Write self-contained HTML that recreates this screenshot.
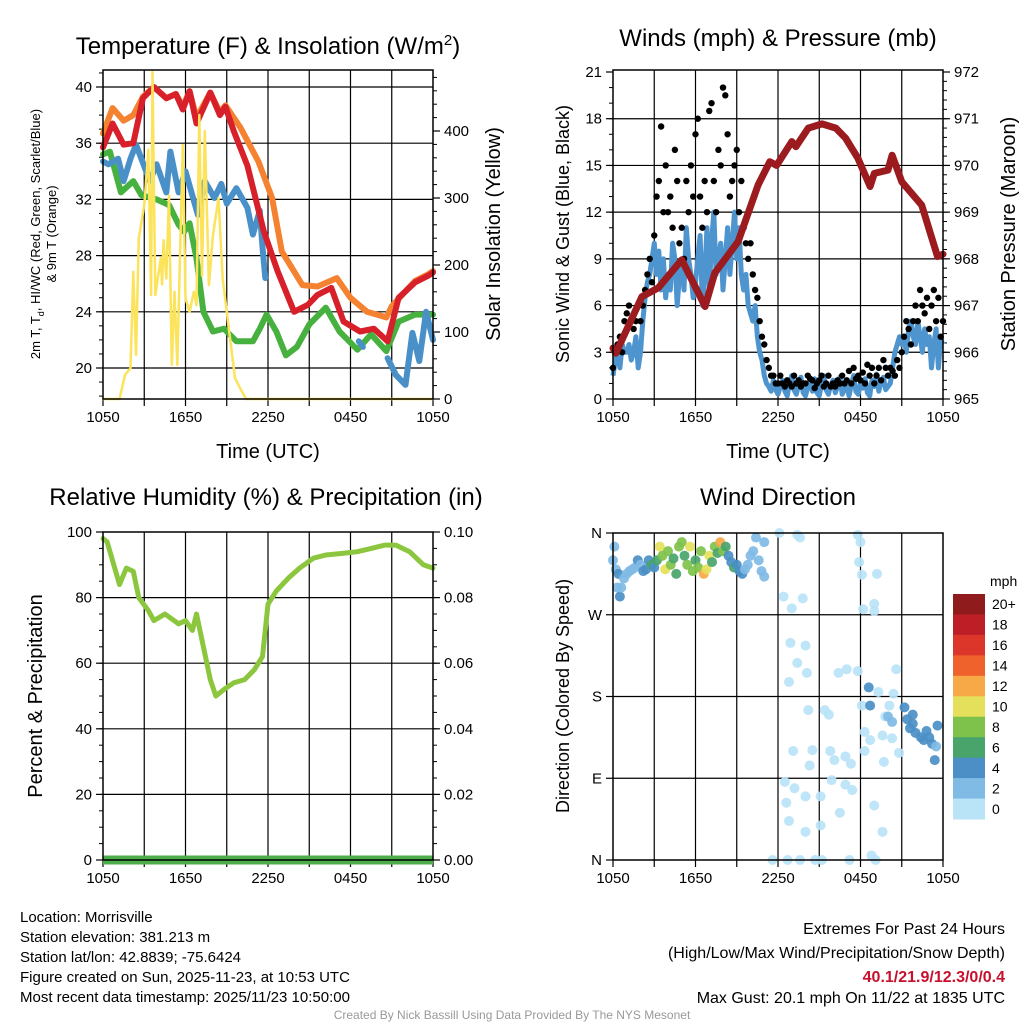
<!DOCTYPE html>
<html><head><meta charset="utf-8">
<style>
html,body{margin:0;padding:0;background:#fff;}
svg{display:block;font-family:"Liberation Sans",Arial,sans-serif;}
</style></head>
<body>
<svg id="chart" width="1024" height="1024" viewBox="0 0 1024 1024" xmlns="http://www.w3.org/2000/svg">
<g id="static">
<text x="268" y="54" font-size="24" text-anchor="middle">Temperature (F) &amp; Insolation (W/m<tspan dy="-9" font-size="15">2</tspan><tspan dy="9">)</tspan></text>
<text x="778" y="46" font-size="24" text-anchor="middle">Winds (mph) &amp; Pressure (mb)</text>
<text x="266" y="505" font-size="24" text-anchor="middle">Relative Humidity (%) &amp; Precipitation (in)</text>
<text x="778" y="505" font-size="24" text-anchor="middle">Wind Direction</text>
<text x="268" y="458" font-size="20" text-anchor="middle">Time (UTC)</text>
<text x="778" y="458" font-size="20" text-anchor="middle">Time (UTC)</text>
<g transform="translate(40,234) rotate(-90)">
<text x="0" y="0" font-size="13" text-anchor="middle">2m T, T<tspan dy="4" font-size="9">d</tspan><tspan dy="-4">, HI/WC (Red, Green, Scarlet/Blue)</tspan></text>
<text x="0" y="16" font-size="13" text-anchor="middle">&amp; 9m T (Orange)</text>
</g>
<text transform="translate(500,234) rotate(-90)" font-size="20" text-anchor="middle">Solar Insolation (Yellow)</text>
<text transform="translate(569,234) rotate(-90)" font-size="18" text-anchor="middle">Sonic Wind &amp; Gust (Blue, Black)</text>
<text transform="translate(1015,234) rotate(-90)" font-size="20" text-anchor="middle">Station Pressure (Maroon)</text>
<text transform="translate(42,696) rotate(-90)" font-size="20" text-anchor="middle">Percent &amp; Precipitation</text>
<text transform="translate(569,696) rotate(-90)" font-size="18" text-anchor="middle">Direction (Colored By Speed)</text>
<g font-size="15">
<text x="20" y="922">Location: Morrisville</text>
<text x="20" y="942">Station elevation: 381.213 m</text>
<text x="20" y="962">Station lat/lon: 42.8839; -75.6424</text>
<text x="20" y="982">Figure created on Sun, 2025-11-23, at 10:53 UTC</text>
<text x="20" y="1002">Most recent data timestamp: 2025/11/23 10:50:00</text>
</g>
<g font-size="16" text-anchor="end">
<text x="1005" y="934">Extremes For Past 24 Hours</text>
<text x="1005" y="958">(High/Low/Max Wind/Precipitation/Snow Depth)</text>
<text x="1005" y="982" fill="#c8102e" font-weight="bold">40.1/21.9/12.3/0/0.4</text>
<text x="1005" y="1003">Max Gust: 20.1 mph On 11/22 at 1835 UTC</text>
</g>
<text x="512" y="1019" font-size="12" fill="#999" text-anchor="middle">Created By Nick Bassill Using Data Provided By The NYS Mesonet</text>
</g>
<g id="dyn"></g>
</svg>
<script>
// ---------------- DATA ----------------
const xTickLabels = ["1050","1650","2250","0450","1050"];
const redHours = [0,0.7,1.5,2.2,2.9,3.7,4.6,5.3,5.8,6.3,6.8,7.8,8.5,8.9,9.5,10.5,11.7,12.7,13.9,14.9,15.6,16.6,17.5,18.7,19.7,20.7,21.5,22.7,23.7,24];
const redTemp = [35.7,37.4,35.9,36.0,39.2,40.0,39.2,39.5,38.4,39.7,37.4,39.6,38.0,38.6,36.9,34.4,29.7,26.9,24.0,24.5,25.2,25.7,23.3,22.6,22.8,21.9,25.0,26.1,26.6,26.8];
const orangeHours = [0,0.7,1.5,2.2,2.9,3.7,4.6,5.3,5.8,6.3,6.8,7.8,8.5,8.9,10,11.3,12.3,13,14.5,15.6,17,18,19.2,20.6,21,22.7,23.7,24];
const orangeTemp = [36.7,38.5,37.6,38.0,39.3,40.0,39.2,39.5,38.6,39.7,37.8,39.6,38.2,38.7,37.1,34.7,32.1,28.3,25.9,25.8,26.4,25.0,24.0,23.6,24.4,26.2,26.7,26.9];
const greenHours = [0,0.5,1.3,2.2,2.8,3.9,4.8,5.5,5.9,6.3,6.8,7.3,8,8.8,9.7,10.9,11.4,11.9,12.6,13.3,14.1,15,16.2,17.2,18.5,19.5,20.6,21.5,22.7,24];
const greenTemp = [35.2,35.4,32.5,33.3,32.3,32.0,31.6,30.2,29.7,30.3,27.8,24.0,22.6,22.8,21.9,21.9,22.8,23.8,22.6,20.9,21.5,23.1,24.3,22.6,21.3,22.4,21.2,23.3,23.8,23.8];
const blueHours = [0,0.4,1.1,1.5,2.0,2.4,3.4,3.9,4.6,4.9,5.5,6.0,6.9,7.4,8.1,8.6,9.0,9.7,10.5,10.9,11.4,11.6,11.8,11.9,18.6,18.9,19.0,20.7,21.3,22.0,22.5,23.0,23.5,24];
const blueTemp = [34.7,34.5,34.9,33.3,34.9,35.9,33.3,34.5,32.5,35.4,32.5,34.0,30.9,33.3,32.1,33.1,31.7,32.8,31.4,29.5,31.2,28.6,26.4,null,21.9,21.5,null,20.7,19.5,18.8,22.5,20.5,24.0,22.0];
const solarHours = [0,1.2,1.6,2.0,2.2,2.4,2.6,3.0,3.3,3.5,3.6,3.8,4.2,4.3,4.4,4.6,4.8,5.0,5.2,5.4,5.8,6.0,6.3,6.6,6.8,7.0,7.2,7.4,7.7,8.0,8.4,8.7,9.0,9.6,10.0,10.4,24];
const solarVals = [0,0,36,46,190,66,240,290,372,155,488,155,210,171,237,180,304,51,160,51,379,150,130,160,140,424,184,400,170,245,300,180,130,31,15,0,0];
const windVals = [1.5,2.5,3,2,3.5,3, 3,3.5,2.5,3,4,2, 3,5,6.5,7.5,8,9, 10,8,9.5,7,9,6.5, 8,7,10,9,6,8, 9,7,11,9,8,6.5, 7.5,9,10.5,6,8,11, 7,10,12,8,9,10, 7,9,11,8,10,12, 9,11,8,7,8,6, 5.5,5,6,4,3,2.5, 1.5,1,0.8,0.5,1.2,0.6,
 0.3,0.8,1.2,0.5,0.2,1,1.5,0.6,0.3,0.9,1.4,0.4,0.2,0.8,1.1,0.5,1.3,0.4,0.2,1,1.5,0.6,0.3,0.9,1.2,0.4,0.8,1.4,0.3,0.6,1.1,0.2,0.9,1.5,0.5,0.3,1,0.7,1.3,0.4,0.2,1.2,0.8,1.6,0.5,1.1,1.4,0.6,
 0.8,1,2,3,3.5,4, 3.5,4,3,4.5,5,4, 3.5,5,4,3,4.5,3.5, 4,2,3.5,4.5,2,3.8,3.5];
const gustVals = [2,3,3.5,4,3,5, 5.5,6,5,4.5,5,6, 5,6,7,8,9,7.5, 10.5,13,14,17.5,12,15, 12,13,11,16,14,10, 11,9,14,12,15,13, 17,18,13,11,14,12, 18.5,19,14,12,16,15, 20,19.5,17,13,14,15, 16,12,14,11,10,9, 10,8,7,6.5,5,4, 3.5,2.5,2,1.5,1.5,1,
 1,1.5,1,0.8,1.2,1, 0.8,1.5,1,1.2,0.8,1, 1,1.5,1.3,1.2,0.7,1, 1.2,1.5,0.8,1,1.5,0.8, 1,0.8,1.2,1,1.5,1, 1.2,1.8,1,2,1.3,1.5, 1.2,1.7,1,2.2,1.5,2, 1,1.5,2,1.2,2.5,2,
 1.5,2,1.8,1.5,2.5,2, 3,4,5,4.5,3.5,5, 6,5,7,6,5.5,6.5, 4.5,6,7,5,6.5,4,5];
const presHours = [0,0.2,2.1,3.3,5.0,6.7,7.4,9.1,10.55,11.4,11.9,13.0,13.3,14.2,15.2,16.2,16.9,17.8,18.7,19.0,20.0,20.3,21.0,22.45,23.6,24];
const presVals = [966.09,965.98,967.19,967.38,967.98,966.98,967.70,968.37,969.58,970.08,970.0,970.51,970.4,970.8,970.89,970.8,970.59,970.16,969.55,969.83,969.9,970.22,969.65,969.15,968.05,968.1];
const rhHours = [0,0.3,1.2,1.7,2.2,2.6,3.3,3.7,4.5,5.5,6,6.5,6.8,7.3,7.8,8.2,8.8,9.5,10.3,11,11.6,12,12.6,13.5,14.3,15.3,16.2,17.5,18.5,19.5,20.5,21.3,22.3,23.3,24];
const rhVals = [98,97,84,89,88,80,76,73,75,72,73,70,75,65,55,50,52,54,55,58,62,78,82,86,89,92,93,93.5,94,95,96,96,94,90,89];
const precipVals = [0,0];
const dirHours = [0,0.1,0.2,0.3,0.4,0.5,0.6,0.8,1.0,1.2,1.4,1.6,1.8,2.0,2.2,2.4,2.6,2.8,3.0,
 3.2,3.4,3.6,3.8,4.0,4.2,4.4,4.6,4.8,5.0,5.2,5.4,5.6,5.8,6.0,6.2,6.4,6.6,6.8,7.0,7.2,7.4,7.6,7.8,8.0,8.2,8.4,8.6,8.8,9.0,9.2,9.4,9.6,9.8,10.0,10.2,10.4,10.6,10.8,11.0,11.0,
 12.1,12.4,13.0,13.4,13.6,13.8,12.9,14.0,13.4,12.8,14.1,14.2,15.4,15.7,16.4,17.0,17.8,18.1,18.3,18.7,18.3,15.8,16.1,16.9,17.3,14.5,13.1,14.3,12.5,13.2,14.0,15.1,15.9,16.9,17.4,12.6,12.8,14.0,15.1,16.5,19.0,19.6,11.6,12.7,13.6,14.7,15.2,17.2,18.8,19.1,17.8,18.0,17.9,18.1,19.2,18.2,19.0,19.0,20.6,20.4,19.3,20.1,19.6,20.3,20.8,19.7,19.8,
 18.6,18.7,20.0,21.2,21.8,21.4,21.8,22.0,22.4,22.6,23.0,23.2,23.5,23.6,23.4,22.8,21.6,20.3];
const dirVals = [330,345,320,300,315,290,300,310,315,318,320,322,330,325,318,320,330,325,322,
 330,345,335,320,340,325,332,315,345,350,335,325,345,318,330,322,340,315,320,335,328,345,338,350,340,345,335,328,322,325,318,315,320,325,335,340,355,330,318,350,312,
 360,290,277,358,355,288,239,236,217,196,206,165,165,160,206,210,208,170,141,132,120,120,110,114,106,121,120,104,86,79,70,70,88,83,77,63,43,31,38,52,60,31,0,0,0,0,0,0,5,0,358,350,328,314,315,276,282,274,210,183,185,170,137,134,118,108,158,
 190,170,158,168,160,155,150,140,135,132,135,128,125,148,110,142,145,152];
const dirSpeeds = [3,3,3,3,5,5,3,3,3,3,3,3,5,3,5,5,5,7,5,
 7,11,9,11,9,9,7,7,9,9,7,9,11,9,7,9,9,13,11,11,7,9,7,13,9,7,5,5,7,5,5,5,3,3,3,3,3,3,3,3,3,
 1,1,1,1,1,1,1,1,1,1,1,1,1,1,1,1,1,1,1,1,1,1,1,1,1,1,1,1,1,1,1,1,1,1,1,1,1,1,1,1,1,1,1,1,1,1,1,1,1,1,1,1,1,1,1,1,1,1,1,1,1,1,1,1,1,1,1,
 5,5,3,5,5,5,5,5,5,5,5,5,3,5,5,5,5,3];
const cbLabels = ["20+","18","16","14","12","10","8","6","4","2","0"];
const cbColors = ["#8f1b1d","#be1f26","#dc3529","#f0622b","#f7a847","#e5e05b","#7fc24b","#48a46b","#4b8fc6","#80bbe5","#b9e3f7"];

// ---------------- HELPERS ----------------
const NS="http://www.w3.org/2000/svg";
const dyn=document.getElementById('dyn');
function mk(tag,attrs,parent){const e=document.createElementNS(NS,tag);for(const k in attrs)e.setAttribute(k,attrs[k]);(parent||dyn).appendChild(e);return e;}
function lin(d0,d1,r0,r1){return v=>r0+(v-d0)/(d1-d0)*(r1-r0);}
function pathFrom(xs,ys,fx,fy){let d="",pen=false;for(let i=0;i<xs.length;i++){if(ys[i]===null||ys[i]===undefined){pen=false;continue;}d+=(pen?"L":"M")+fx(xs[i]).toFixed(1)+","+fy(ys[i]).toFixed(1);pen=true;}return d;}

function panelFrame(name,L,T,R,B,hGrid){
  const g=mk('g',{});
  
  
  const fx=lin(0,24,L,R);
  for(let h=3;h<24;h+=3){const l=mk('line',{x1:fx(h),x2:fx(h),y1:T,y2:B,stroke:'#000','stroke-width':1.2},g);}
  hGrid.forEach(y=>{if(y<T+4||y>B-4)return;const l=mk('line',{x1:L,x2:R,y1:y,y2:y,stroke:'#000','stroke-width':1.2},g);});
  for(let h=0;h<=24;h+=3){mk('line',{x1:fx(h),x2:fx(h),y1:B,y2:B+7,stroke:'#000','stroke-width':1.2},g);}
  xTickLabels.forEach((s,i)=>{const t=mk('text',{x:fx(i*6),y:B+23,'font-size':15,'text-anchor':'middle'},g);t.textContent=s;});
  return fx;
}
function border(L,T,R,B){const r=mk('rect',{x:L,y:T,width:R-L,height:B-T,fill:'none',stroke:'#000','stroke-width':1.5});}
function yAxis(x,fy,ticks,labels,minor,side){
  const dir=side==='left'?-1:1;
  minor.forEach(v=>mk('line',{x1:x,x2:x+dir*4,y1:fy(v),y2:fy(v),stroke:'#000','stroke-width':1}));
  ticks.forEach((v,i)=>{mk('line',{x1:x,x2:x+dir*7,y1:fy(v),y2:fy(v),stroke:'#000','stroke-width':1.2});
    const t=mk('text',{x:x+dir*11,y:fy(v)+5,'font-size':15,'text-anchor':side==='left'?'end':'start'});t.textContent=labels[i];
    });
}
function range(a,b,s){const r=[];for(let v=a;v<=b+1e-9;v+=s)r.push(+v.toFixed(4));return r;}

// ---------------- PANEL 1 ----------------
(function(){
  const L=103,T=70,R=433,B=399;
  const fyT=lin(20,40,368,87), fyS=lin(0,400,399,131);
  const tT=[20,24,28,32,36,40];
  const fx=panelFrame('temp-panel',L,T,R,B,tT.map(fyT));
  yAxis(L,fyT,tT,tT.map(String),range(18,41,1),'left');
  const sT=[0,100,200,300,400];
  yAxis(R,fyS,sT,sT.map(String),range(0,480,20),'right');
  const series=[[orangeHours,orangeTemp,'#f58231','nine-m-temp-line'],[greenHours,greenTemp,'#47b13f','dewpoint-line'],[blueHours,blueTemp,'#4a90c8','windchill-line'],[redHours,redTemp,'#d7202a','two-m-temp-line']];
  series.forEach(s=>{const p=mk('path',{d:pathFrom(s[0],s[1],fx,fyT),fill:'none',stroke:s[2],'stroke-width':6,'stroke-linejoin':'round','stroke-linecap':'round'});
    });
  const p=mk('path',{d:pathFrom(solarHours,solarVals,fx,fyS),fill:'none',stroke:'#fbe35b','stroke-width':2.5,'stroke-linejoin':'round'});
  
  border(L,T,R,B);
})();

// ---------------- PANEL 2 ----------------
(function(){
  const L=613,T=70,R=943,B=399;
  const fyW=lin(0,21,399,72), fyP=lin(965,972,399,72);
  const tW=[0,3,6,9,12,15,18,21];
  const fx=panelFrame('wind-panel',L,T,R,B,tW.map(fyW));
  yAxis(L,fyW,tW,tW.map(String),range(0,21,1),'left');
  const tP=[965,966,967,968,969,970,971,972];
  yAxis(R,fyP,tP,tP.map(String),range(965,972,0.2),'right');
  const hrs=windVals.map((v,i)=>i/6);
  const w=mk('path',{d:pathFrom(hrs,windVals,fx,fyW),fill:'none',stroke:'#4e94cf','stroke-width':5,'stroke-linejoin':'round'});
  
  gustVals.forEach((v,i)=>{const c=mk('circle',{cx:fx(i/6),cy:fyW(v),r:3.2,fill:'#000'});
    });
  const p=mk('path',{d:pathFrom(presHours,presVals,fx,fyP),fill:'none',stroke:'#9b1b1f','stroke-width':7,'stroke-linejoin':'round','stroke-linecap':'round'});
  
  border(L,T,R,B);
})();

// ---------------- PANEL 3 ----------------
(function(){
  const L=103,T=532,R=433,B=860;
  const fyR=lin(0,100,860,532), fyP=lin(0,0.1,860,532);
  const tR=[0,20,40,60,80,100];
  const fx=panelFrame('rh-panel',L,T,R,B,tR.map(fyR));
  yAxis(L,fyR,tR,tR.map(String),range(0,100,5),'left');
  const tP=[0,0.02,0.04,0.06,0.08,0.1];
  yAxis(R,fyP,tP,tP.map(v=>v.toFixed(2)),range(0,0.1,0.005),'right');
  const pr=mk('path',{d:pathFrom([0,24],precipVals,fx,fyP),fill:'none',stroke:'#4cae4a','stroke-width':9});
  
  const p=mk('path',{d:pathFrom(rhHours,rhVals,fx,fyR),fill:'none',stroke:'#8cc63f','stroke-width':5,'stroke-linejoin':'round','stroke-linecap':'round'});
  
  border(L,T,R,B);
})();

// ---------------- PANEL 4 ----------------
(function(){
  const L=613,T=533,R=943,B=860;
  const fyD=lin(0,360,860,533);
  const tD=[0,90,180,270,360];
  const fx=panelFrame('wdir-panel',L,T,R,B,tD.map(fyD));
  yAxis(L,fyD,tD,['N','E','S','W','N'],[],'left');
  dirHours.forEach((h,i)=>{const bin=Math.min(10,Math.floor(dirSpeeds[i]/2));
    const c=mk('circle',{cx:fx(h),cy:fyD(dirVals[i]),r:5,fill:cbColors[10-bin],'fill-opacity':0.92});
    });
  border(L,T,R,B);
  const cb=mk('g',{});
  
  
  const t=mk('text',{x:990,y:586,'font-size':14},cb);t.textContent='mph';
  const h=225/11;
  cbColors.forEach((c,i)=>{mk('rect',{x:953,y:594+i*h,width:32,height:h+0.5,fill:c},cb);
    const l=mk('text',{x:992,y:594+i*h+h/2+5,'font-size':14},cb);l.textContent=cbLabels[i];
    });
})();
</script>
</body></html>
